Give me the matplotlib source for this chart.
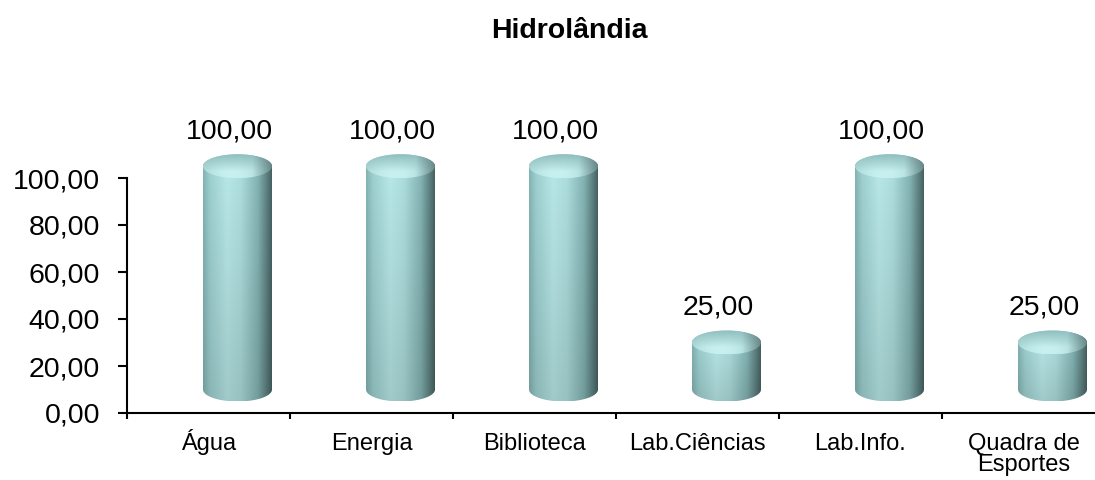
import numpy as np
import matplotlib
matplotlib.use("Agg")
import matplotlib.pyplot as plt
from matplotlib.path import Path
from matplotlib.patches import PathPatch, Ellipse
from matplotlib.ticker import FixedLocator

# ---- data ----
categories = ["Água", "Energia", "Biblioteca", "Lab.Ciências", "Lab.Info.", "Quadra de\nEsportes"]
values = [100.0, 100.0, 100.0, 25.0, 100.0, 25.0]
yticks = [0, 20, 40, 60, 80, 100]
title = "Hidrolândia"

plt.rcParams['font.family'] = ['Liberation Sans', 'DejaVu Sans']

W, H = 1095, 480
fig = plt.figure(figsize=(W / 100, H / 100), dpi=100)

# layout in pixels
px_left, px_zero, px_hundred = 127, 413, 178
step_px = 163.0
yscale = (px_zero - px_hundred) / 100.0      # px per unit
ytop = 118
ax = fig.add_axes([px_left / W, (H - px_zero) / H, 1 - px_left / W, ytop * yscale / H])
ax.set_xlim(-0.5, -0.5 + (W - px_left) / step_px)
ax.set_ylim(0, ytop)

# 3D look parameters (pixels -> data)
dx = 29 / step_px
hw = 34.5 / step_px
ry = 12 / yscale
base = 10.0
lift = 5.0

# gradient colour profile across the cylinder (left -> right)
prof_t = np.array([0.0, 0.10, 0.35, 0.55, 0.80, 0.94, 1.0])
prof_c = np.array([
    [0.50, 0.68, 0.68],
    [0.60, 0.79, 0.79],
    [0.70, 0.88, 0.88],
    [0.66, 0.84, 0.84],
    [0.50, 0.68, 0.68],
    [0.34, 0.47, 0.47],
    [0.27, 0.37, 0.37],
])

def body_image(nrow=200, ncol=120):
    t = np.linspace(0, 1, ncol)
    row = np.stack([np.interp(t, prof_t, prof_c[:, k]) for k in range(3)], axis=-1)
    v = np.linspace(1.04, 0.90, nrow)[:, None, None]   # top brighter, bottom greyer
    img = row[None, :, :] * v
    return np.clip(img, 0, 1)

def cap_image(nrow=60, ncol=120):
    t = np.linspace(0, 1, ncol)
    s = np.linspace(0, 1, nrow)  # 0 = back (top), 1 = front
    tt, ss = np.meshgrid(t, s)
    rim = np.array([0.56, 0.74, 0.74])
    light = np.array([0.78, 0.94, 0.94])
    w = np.clip(1 - ((tt - 0.42) / 0.62) ** 2, 0, 1) * np.clip(ss * 1.4, 0, 1)
    img = rim[None, None, :] * (1 - w[..., None]) + light[None, None, :] * w[..., None]
    img *= (1 - 0.3 * np.clip((tt - 0.72) / 0.28, 0, 1))[..., None]
    return np.clip(img, 0, 1)

bimg = body_image()
cimg = cap_image()

for i, v in enumerate(values):
    xc = i + dx
    yb = base
    yt = v + lift
    th = np.linspace(np.pi, 0, 60)
    top_arc = np.column_stack([xc + hw * np.cos(th), yt + ry * np.sin(th)])
    th2 = np.linspace(0, -np.pi, 60)
    bot_arc = np.column_stack([xc + hw * np.cos(th2), yb + ry * np.sin(th2)])
    verts = np.vstack([[xc - hw, yb], top_arc, bot_arc, [xc - hw, yb]])
    path = Path(verts, closed=True)
    patch = PathPatch(path, transform=ax.transData, facecolor='none', edgecolor='none')
    ax.add_patch(patch)
    im = ax.imshow(bimg, extent=[xc - hw, xc + hw, yb - ry, yt + ry], aspect='auto',
                   origin='upper', zorder=2, interpolation='bilinear')
    im.set_clip_path(patch)
    cap = Ellipse((xc, yt), 2 * hw, 2 * ry, transform=ax.transData,
                  facecolor='none', edgecolor='none')
    ax.add_patch(cap)
    im2 = ax.imshow(cimg, extent=[xc - hw, xc + hw, yt - ry, yt + ry], aspect='auto',
                    origin='upper', zorder=3, interpolation='bilinear')
    im2.set_clip_path(cap)
    ax.annotate(f"{v:.2f}".replace('.', ','), xy=(i + 21 / step_px, yt + ry),
                xytext=(0, 11.5), textcoords='offset points', ha='center',
                va='baseline', fontsize=20.5, color='black', zorder=5)

ax.set_xlim(-0.5, -0.5 + (W - px_left) / step_px)
ax.set_ylim(0, ytop)

# axes styling
for s in ['top', 'right']:
    ax.spines[s].set_visible(False)
ax.spines['left'].set_bounds(0, 100)
ax.spines['left'].set_linewidth(1.5)
ax.spines['bottom'].set_linewidth(1.5)
ax.set_facecolor('none')

ax.set_yticks(yticks)
ax.set_yticklabels([f"{t:.2f}".replace('.', ',') for t in yticks], fontsize=20.5)
ax.tick_params(axis='y', direction='out', length=6.5, width=1.5, pad=13)

# category labels (first-line baseline 37 px below the axis line)
ax.set_xticks([])
ax.xaxis.set_minor_locator(FixedLocator(np.arange(-0.5, len(categories) + 0.5, 1.0)))
ax.tick_params(axis='x', which='minor', direction='out', length=4, width=1.5)
line_px = 21
for i, lab in enumerate(categories):
    n_extra = lab.count('\n')
    ax.annotate(lab, xy=(i, 0), xycoords=('data', 'axes fraction'),
                xytext=(0, -(37 + n_extra * line_px) * 0.72), textcoords='offset points',
                ha='center', va='baseline', fontsize=17, linespacing=0.95,
                multialignment='center')

fig.text(569 / W, 1 - 38.3 / H, title, ha='center', va='baseline',
         fontsize=20.5, fontweight='bold')

fig.savefig("out.png", dpi=100)
